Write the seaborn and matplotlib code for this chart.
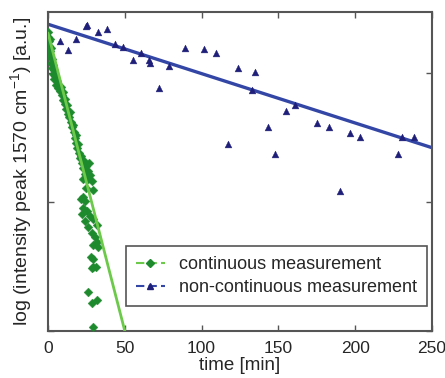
import matplotlib
matplotlib.use("Agg")
import matplotlib.pyplot as plt
import seaborn as sns
import pandas as pd
from matplotlib.lines import Line2D

# ---- data ----
cont_t = [0.0, 0.3, 0.5, 0.8, 1.0, 1.2, 1.5, 1.8, 2.0, 2.3, 2.5, 3.0, 3.3, 3.8, 4.2, 4.8,
          5.3, 5.8, 6.3, 7.0, 7.5, 8.2, 8.8, 9.5, 10.0, 10.8, 11.3, 12.0, 12.6, 13.2, 13.8,
          14.3, 15.0, 15.5, 16.2, 16.8, 17.3, 17.9, 18.4, 19.0, 19.6, 20.2, 20.8, 21.5, 22.0,
          22.6, 23.2, 23.8, 24.5, 25.0, 25.8, 26.5, 27.2, 23.0, 26.2, 28.4, 24.7, 29.1, 23.0,
          21.3, 24.1, 22.6, 25.2, 21.9, 27.3, 29.5, 24.1, 26.2, 31.7, 28.4, 30.6, 31.7, 29.1,
          32.7, 27.8, 29.1, 29.5, 31.3, 28.4, 26.3, 28.4, 32.1, 29.1]
cont_y = [2.32, 2.28, 2.25, 2.21, 2.26, 2.17, 2.13, 2.19, 2.08, 2.11, 2.04, 2.06, 1.99, 2.02,
          1.95, 1.98, 1.91, 1.94, 1.88, 1.90, 1.86, 1.89, 1.83, 1.85, 1.79, 1.76, 1.80, 1.72,
          1.75, 1.68, 1.66, 1.70, 1.62, 1.58, 1.60, 1.54, 1.50, 1.52, 1.46, 1.42, 1.45, 1.38,
          1.34, 1.36, 1.30, 1.26, 1.32, 1.22, 1.28, 1.19, 1.24, 1.30, 1.21, 1.18, 1.18, 1.16,
          1.11, 1.09, 1.04, 1.02, 1.01, 0.95, 0.93, 0.91, 0.89, 0.87, 0.85, 0.81, 0.82, 0.76,
          0.73, 0.69, 0.67, 0.65, 0.57, 0.56, 0.50, 0.50, 0.49, 0.30, 0.22, 0.24, 0.03]

noncont_t = [8.0, 13.2, 18.0, 24.5, 25.4, 32.3, 38.2, 43.8, 48.8, 55.1, 60.5, 65.5, 66.2,
             72.3, 78.8, 89.2, 101.6, 109.6, 117.2, 123.9, 132.6, 134.5, 143.2, 147.8, 154.7,
             160.6, 175.1, 182.9, 189.9, 196.4, 202.9, 228.1, 230.7, 238.0]
noncont_y = [2.248, 2.181, 2.261, 2.362, 2.375, 2.318, 2.344, 2.227, 2.199, 2.098, 2.152,
             2.103, 2.078, 1.881, 2.057, 2.196, 2.189, 2.158, 1.452, 2.039, 1.866, 2.008,
             1.579, 1.370, 1.703, 1.755, 1.610, 1.584, 1.083, 1.532, 1.501, 1.372, 1.504, 1.504]

cont_fit_t = [0, 50]
cont_fit_y = [2.31, 0.0]
noncont_fit_t = [0, 250]
noncont_fit_y = [2.378, 1.421]

labels = ["continuous measurement", "non-continuous measurement"]
x_ticks = [0, 50, 100, 150, 200, 250]

# ---- style ----
sns.set_style("white")
plt.rcParams['font.family'] = ['Liberation Sans', 'DejaVu Sans']
plt.rcParams['mathtext.fontset'] = 'custom'
plt.rcParams['mathtext.rm'] = 'Liberation Sans'
plt.rcParams['mathtext.it'] = 'Liberation Sans'

green_pt = "#1e8a2e"
green_ln = "#6cc94a"
blue_pt = "#1f1f7a"
blue_ln = "#3346a6"
edge = "#555555"

fig = plt.figure(figsize=(4.45, 3.78), dpi=100)
ax = fig.add_axes([0.1079, 0.1243, 0.8629, 0.844])

df_c = pd.DataFrame({"t": cont_t, "y": cont_y})
df_n = pd.DataFrame({"t": noncont_t, "y": noncont_y})
df_cf = pd.DataFrame({"t": cont_fit_t, "y": cont_fit_y})
df_nf = pd.DataFrame({"t": noncont_fit_t, "y": noncont_fit_y})

sns.lineplot(data=df_nf, x="t", y="y", ax=ax, color=blue_ln, lw=2.4, zorder=2)
sns.scatterplot(data=df_n, x="t", y="y", ax=ax, marker="^", s=24, color=blue_pt,
                edgecolor=blue_pt, linewidth=0.3, zorder=3)
sns.scatterplot(data=df_c, x="t", y="y", ax=ax, marker="D", s=20, color=green_pt,
                edgecolor=green_pt, linewidth=0.3, zorder=3)
sns.lineplot(data=df_cf, x="t", y="y", ax=ax, color=green_ln, lw=2.0, zorder=4)

ax.set_xlim(0, 250)
ax.set_ylim(0, 2.473)
ax.set_xticks(x_ticks)
ax.set_xticklabels([str(v) for v in x_ticks], fontsize=12.5)
ax.set_yticks([0, 1, 2])
ax.set_yticklabels([])
ax.tick_params(direction="in", length=4, width=1, color=edge, top=True, right=True,
               bottom=True, left=True, pad=7)
for s in ax.spines.values():
    s.set_color(edge)
    s.set_linewidth(1.5)

ax.set_xlabel("time [min]", fontsize=13.5, labelpad=1)
ax.set_ylabel(r"log (intensity peak 1570 cm$^{-1}$) [a.u.]", fontsize=14, labelpad=3)

handles = [
    Line2D([0], [0], color=green_ln, lw=1.5, ls=(0, (4, 2)), marker="D", markersize=4,
           markerfacecolor=green_pt, markeredgecolor=green_pt),
    Line2D([0], [0], color=blue_ln, lw=1.5, ls=(0, (4, 2)), marker="^", markersize=5,
           markerfacecolor=blue_pt, markeredgecolor=blue_pt),
]
leg = ax.legend(handles, labels, loc="lower right", bbox_to_anchor=(0.987, 0.078),
                fontsize=13, frameon=True, fancybox=False, framealpha=1,
                edgecolor=edge, handlelength=1.6, borderpad=0.55, labelspacing=0.35,
                handletextpad=0.8, borderaxespad=0.0)
leg.get_frame().set_linewidth(1.2)

fig.savefig("out.png", dpi=100)
